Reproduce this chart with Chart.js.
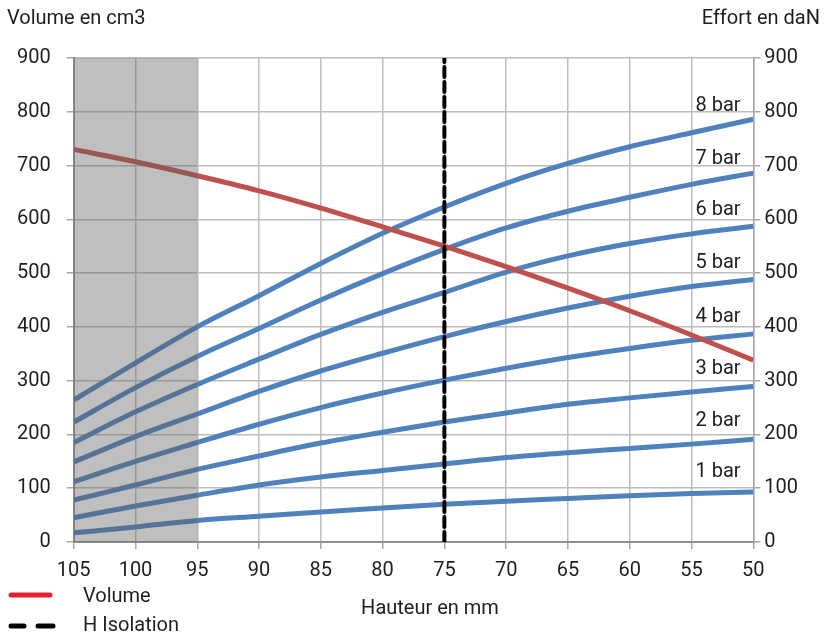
<!DOCTYPE html>
<html>
<head>
<meta charset="utf-8">
<script src="https://cdn.jsdelivr.net/npm/chart.js@4.4.1/dist/chart.umd.min.js"></script>
<style>
html, body { margin: 0; padding: 0; background: #fff; }
#wrap { width: 836px; height: 637px; }
</style>
</head>
<body>
<div id="wrap"><canvas id="myChart"></canvas></div>
<script>
// Hauteur (mm) on the x axis, read left to right
var hauteur = [105, 100, 95, 90, 85, 80, 75, 70, 65, 60, 55, 50];

// Volume en cm3 (left axis)
var volume = [730, 707, 681, 653, 621, 586, 550, 512, 472, 430, 385, 338];

// Effort en daN per pressure (right axis)
var pressures = ["1 bar", "2 bar", "3 bar", "4 bar", "5 bar", "6 bar", "7 bar", "8 bar"];
var effort = [
    [17, 28, 40, 48, 56, 63, 70, 76, 81, 86, 90, 93],
    [45, 67, 87, 106, 121, 133, 145, 157, 166, 174, 182, 191],
    [78, 106, 135, 160, 184, 204, 223, 240, 256, 268, 279, 289],
    [112, 150, 185, 219, 250, 277, 301, 323, 343, 360, 375, 387],
    [149, 196, 238, 280, 318, 351, 382, 410, 435, 457, 475, 488],
    [185, 242, 293, 340, 386, 427, 464, 502, 532, 555, 573, 587],
    [223, 287, 345, 397, 450, 499, 544, 584, 615, 641, 665, 686],
    [264, 333, 400, 458, 518, 574, 623, 667, 704, 735, 761, 786]
];

// H Isolation marker and the greyed-out zone
var isolation = 75;
var greyZone = [95, 105];

var FONT = "Roboto, 'DejaVu Sans', sans-serif";
var TXT = "#1e1e1e";
var BLUE = "#4f81bd";
var RED = "#c0504d";

function points(ys) {
    return ys.map(function (y, i) { return { x: hauteur[i], y: y }; });
}

var datasets = [
    {
        label: "H Isolation",
        data: [{ x: isolation, y: 0 }, { x: isolation, y: 900 }],
        borderColor: "#000",
        borderWidth: 4,
        borderDash: [10, 5],
        borderCapStyle: "round",
        pointRadius: 0,
        yAxisID: "y",
        order: 0
    },
    {
        label: "Volume",
        data: points(volume),
        borderColor: RED,
        borderWidth: 5,
        pointRadius: 0,
        cubicInterpolationMode: "monotone",
        yAxisID: "y",
        order: 1
    }
];
effort.forEach(function (serie, i) {
    datasets.push({
        label: pressures[i],
        data: points(serie),
        borderColor: BLUE,
        borderWidth: 5,
        pointRadius: 0,
        cubicInterpolationMode: "monotone",
        yAxisID: "y2",
        order: 2
    });
});

// grey zone drawn over the lines, as in the original
var shadePlugin = {
    id: "shade",
    afterDatasetsDraw: function (chart) {
        var c = chart.ctx, x = chart.scales.x, a = chart.chartArea;
        var x1 = x.getPixelForValue(greyZone[1]);
        var x2 = x.getPixelForValue(greyZone[0]);
        c.save();
        c.fillStyle = "rgba(95,95,95,0.4)";
        c.fillRect(Math.min(x1, x2), a.top, Math.abs(x2 - x1), a.bottom - a.top);
        c.restore();
    }
};

// "n bar" labels, titles and legend
var textPlugin = {
    id: "texts",
    afterDraw: function (chart) {
        var c = chart.ctx;
        c.save();
        c.fillStyle = TXT;
        c.font = "20px " + FONT;
        c.textBaseline = "middle";

        chart.data.datasets.forEach(function (ds, i) {
            if (ds.yAxisID !== "y2") return;
            var pts = chart.getDatasetMeta(i).data;
            var p1 = pts[pts.length - 2], p2 = pts[pts.length - 1];
            var t = 0.43;
            var px = p1.x + (p2.x - p1.x) * t;
            var py = p1.y + (p2.y - p1.y) * t;
            c.textAlign = "center";
            c.fillText(ds.label, px, py - 21);
        });

        c.textAlign = "left";
        c.fillText("Volume en cm3", 7, 19);
        c.textAlign = "right";
        c.fillText("Effort en daN", 820, 19);
        c.textAlign = "center";
        c.fillText("Hauteur en mm", 430, 609);

        // legend
        c.textAlign = "left";
        c.lineCap = "round";
        c.lineWidth = 5;
        c.strokeStyle = "#e3202b";
        c.beginPath(); c.moveTo(11, 595); c.lineTo(50, 595); c.stroke();
        c.fillText("Volume", 83, 597);
        c.strokeStyle = "#000";
        c.beginPath(); c.moveTo(11, 626); c.lineTo(24, 626); c.stroke();
        c.beginPath(); c.moveTo(38, 626); c.lineTo(53, 626); c.stroke();
        c.fillText("H Isolation", 83, 626);
        c.restore();
    }
};

var gridStyle = { color: "#bdbdbd", lineWidth: 1.5, tickLength: 7, tickColor: "#a6a6a6" };
var tickFont = { family: FONT, size: 20 };

new Chart(document.getElementById("myChart"), {
    type: "line",
    data: { datasets: datasets },
    plugins: [shadePlugin, textPlugin],
    options: {
        responsive: true,
        maintainAspectRatio: false,
        animation: false,
        layout: { padding: { top: 58, right: 34, bottom: 44, left: 1 } },
        plugins: {
            legend: { display: false },
            tooltip: { enabled: false }
        },
        scales: {
            x: {
                type: "linear",
                reverse: true,
                min: 50,
                max: 105,
                ticks: { stepSize: 5, color: TXT, font: tickFont, padding: 10 },
                grid: gridStyle,
                border: { color: "#8f8f8f", width: 2 }
            },
            y: {
                position: "left",
                min: 0,
                max: 900,
                ticks: { stepSize: 100, color: TXT, font: tickFont, padding: 16 },
                grid: gridStyle,
                border: { color: "#8f8f8f", width: 2 }
            },
            y2: {
                position: "right",
                min: 0,
                max: 900,
                ticks: { stepSize: 100, color: TXT, font: tickFont, padding: 4 },
                grid: { drawOnChartArea: false, tickLength: 7, tickColor: "#a6a6a6", lineWidth: 1.5 },
                border: { color: "#a6a6a6", width: 1.5 }
            }
        }
    }
});
</script>
</body>
</html>
